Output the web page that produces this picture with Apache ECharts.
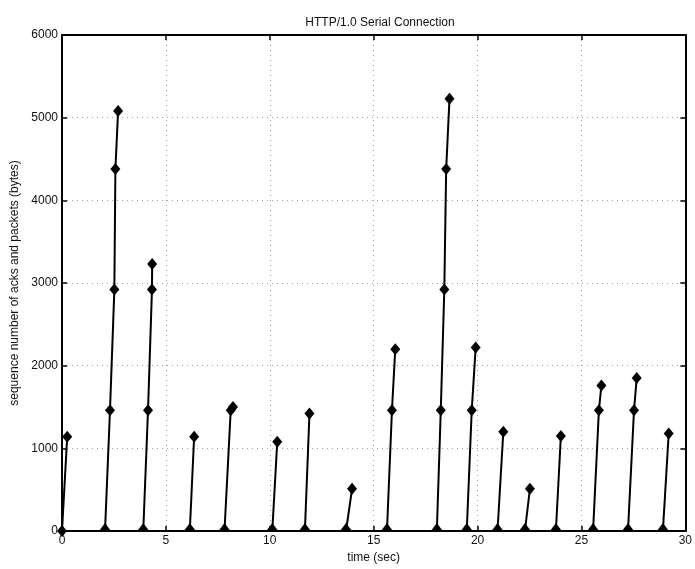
<!DOCTYPE html>
<html>
<head>
<meta charset="utf-8">
<script src="https://cdn.jsdelivr.net/npm/echarts@6/dist/echarts.min.js"></script>
<style>
html,body{margin:0;padding:0;background:#fff;}
#chart{width:695px;height:569px;}
</style>
</head>
<body>
<div id="chart"></div>
<script>
// Each burst: time (sec) of each point and sequence number (bytes)
const spikeTimes = [
  [0, 0.25],
  [2.07, 2.31, 2.52, 2.57, 2.70],
  [3.91, 4.14, 4.33, 4.34],
  [6.15, 6.36],
  [7.82, 8.12, 8.23],
  [10.12, 10.36],
  [11.69, 11.91],
  [13.67, 13.96],
  [15.64, 15.88, 16.04],
  [18.04, 18.23, 18.40, 18.49, 18.65],
  [19.48, 19.72, 19.91],
  [20.96, 21.24],
  [22.28, 22.52],
  [23.77, 24.01],
  [25.56, 25.84, 25.96],
  [27.24, 27.53, 27.66],
  [28.92, 29.20]
];
const spikeSeq = [
  [0, 1140],
  [0, 1460, 2920, 4380, 5080],
  [0, 1460, 2920, 3230],
  [0, 1140],
  [0, 1460, 1500],
  [0, 1080],
  [0, 1420],
  [0, 510],
  [0, 1460, 2200],
  [0, 1460, 2920, 4380, 5230],
  [0, 1460, 2220],
  [0, 1200],
  [0, 510],
  [0, 1150],
  [0, 1460, 1760],
  [0, 1460, 1850],
  [0, 1180]
];
const xTicks = [0, 5, 10, 15, 20, 25, 30];
const yTicks = [0, 1000, 2000, 3000, 4000, 5000, 6000];

const chart = echarts.init(document.getElementById('chart'));
const font = 'Liberation Sans, Arial, Helvetica, sans-serif';

const series = spikeTimes.map((ts, i) => ({
  type: 'line',
  clip: false,
  silent: true,
  animation: false,
  lineStyle: { color: '#000', width: 2 },
  itemStyle: { color: '#000' },
  symbol: 'diamond',
  symbolSize: [10, 12],
  showAllSymbol: true,
  z: 5,
  data: ts.map((t, j) => {
    const v = spikeSeq[i][j];
    if (v === 0 && !(i === 0)) {
      return { value: [t, v], symbol: 'triangle', symbolSize: [12, 8], symbolOffset: [0, -4] };
    }
    return { value: [t, v] };
  })
}));

const gridLine = { show: true, lineStyle: { color: '#555', width: 1, type: [1, 4], opacity: 0.55 } };

chart.setOption({
  animation: false,
  backgroundColor: '#fff',
  title: {
    text: 'HTTP/1.0 Serial Connection',
    left: 375, top: 12, textAlign: 'center',
    textStyle: { fontFamily: font, fontSize: 12, fontWeight: 'normal', color: '#111' }
  },
  grid: { left: 62, right: 8, top: 35, bottom: 34 },
  xAxis: [{
    type: 'value', min: xTicks[0], max: xTicks[xTicks.length - 1], interval: 5,
    name: 'time (sec)', nameLocation: 'middle', nameGap: 21,
    nameTextStyle: { fontFamily: font, fontSize: 12, color: '#111' },
    axisLine: { show: true, onZero: false, lineStyle: { color: '#000', width: 2 } },
    axisTick: { show: true, inside: true, length: 5, lineStyle: { color: '#000', width: 1.5 } },
    axisLabel: { fontFamily: font, fontSize: 12, color: '#111', margin: 4, formatter: v => String(v) },
    splitLine: gridLine
  }, {
    type: 'value', position: 'top', min: 0, max: 30, interval: 5,
    axisLine: { show: true, onZero: false, lineStyle: { color: '#000', width: 2 } },
    axisTick: { show: true, inside: true, length: 5, lineStyle: { color: '#000', width: 1.5 } },
    axisLabel: { show: false }, splitLine: { show: false }
  }],
  yAxis: [{
    type: 'value', min: yTicks[0], max: yTicks[yTicks.length - 1], interval: 1000,
    name: 'sequence number of acks and packets (bytes)', nameLocation: 'middle', nameGap: 40,
    nameTextStyle: { fontFamily: font, fontSize: 12, color: '#111' },
    axisLine: { show: true, onZero: false, lineStyle: { color: '#000', width: 2 } },
    axisTick: { show: true, inside: true, length: 5, lineStyle: { color: '#000', width: 1.5 } },
    axisLabel: { fontFamily: font, fontSize: 12, color: '#111', margin: 4, formatter: v => String(v) },
    splitLine: gridLine
  }, {
    type: 'value', position: 'right', min: 0, max: 6000, interval: 1000,
    axisLine: { show: true, onZero: false, lineStyle: { color: '#000', width: 2 } },
    axisTick: { show: true, inside: true, length: 5, lineStyle: { color: '#000', width: 1.5 } },
    axisLabel: { show: false }, splitLine: { show: false }
  }],
  series: series
});
</script>
</body>
</html>
